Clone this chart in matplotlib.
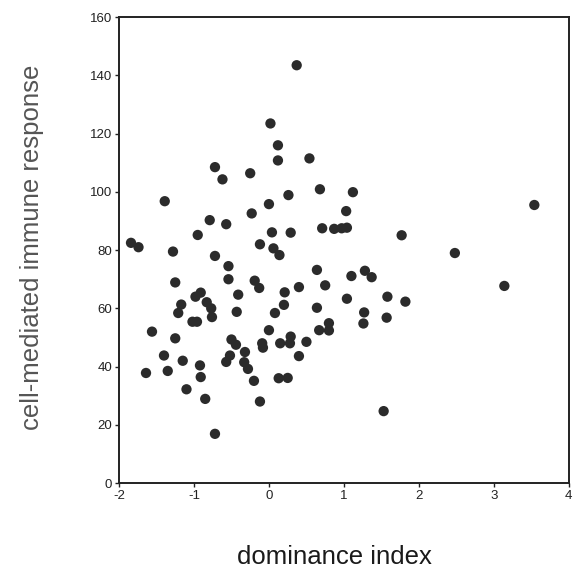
import matplotlib
matplotlib.use("Agg")
import matplotlib.pyplot as plt

plt.rcParams['font.family'] = ['Liberation Sans', 'DejaVu Sans']

dominance = [
    0.37, 0.02, 0.12, 0.12, 0.54, -0.72, -0.62, -0.25, 0.68, 0.26,
    -1.39, 0.00, -0.23, -0.79, -0.57, 0.04, 0.29, -0.95, 0.71, 0.87,
    0.97, 1.04, 1.03, 1.12, 3.54, 1.77, 2.48, -1.84, -1.74, -1.28,
    -0.12, 0.06, 0.14, -0.72, -0.54, -0.54, -1.25, -0.19, -0.13, -0.41,
    0.21, 0.40, 0.64, 0.75, 0.64, 0.20, 0.08, 0.00, -0.09, -0.08,
    0.15, 0.29, 0.28, 0.50, 0.40, 0.67, 0.80, 0.80, 0.13, 0.25,
    -0.12, -0.20, -0.28, -0.33, -0.32, -0.50, -0.44, -0.52, -0.57, -0.43,
    -0.72, -0.85, -0.91, -0.92, -1.10, -1.15, -1.35, -1.40, -1.25, -1.56,
    -1.64, -1.17, -1.21, -0.98, -0.91, -1.02, -0.96, -0.83, -0.77, -0.76,
    1.10, 1.28, 1.37, 1.04, 1.58, 1.82, 1.27, 1.26, 1.57, 1.53,
    3.14,
]
immune = [
    143.5, 123.5, 116.0, 110.8, 111.5, 108.5, 104.3, 106.4, 100.9, 98.9,
    96.8, 95.8, 92.6, 90.3, 88.9, 86.1, 86.0, 85.2, 87.5, 87.3,
    87.5, 87.7, 93.4, 99.9, 95.5, 85.1, 79.0, 82.5, 81.0, 79.5,
    82.0, 80.6, 78.3, 78.0, 74.5, 70.0, 68.9, 69.5, 67.0, 64.7,
    65.5, 67.3, 73.2, 67.9, 60.2, 61.2, 58.4, 52.5, 48.0, 46.5,
    48.0, 50.3, 48.0, 48.5, 43.6, 52.5, 54.9, 52.4, 36.0, 36.1,
    28.0, 35.1, 39.2, 41.5, 45.0, 49.3, 47.5, 43.8, 41.6, 58.8,
    16.9, 28.9, 36.4, 40.4, 32.2, 42.0, 38.5, 43.8, 49.7, 52.0,
    37.8, 61.3, 58.4, 64.0, 65.4, 55.4, 55.4, 62.1, 60.0, 57.0,
    71.1, 72.9, 70.7, 63.3, 64.0, 62.3, 58.6, 54.8, 56.8, 24.7,
    67.7,
]
x_ticks = [-2, -1, 0, 1, 2, 3, 4]
y_ticks = [0, 20, 40, 60, 80, 100, 120, 140, 160]

fig = plt.figure(figsize=(5.73, 5.73), dpi=100)
ax = fig.add_axes([0.2077, 0.157, 0.785, 0.813])

ax.scatter(dominance, immune, s=55, color='#2b2b2b', edgecolors='none', zorder=3)

ax.set_xlim(-2, 4)
ax.set_ylim(0, 160)
ax.set_xticks(x_ticks)
ax.set_yticks(y_ticks)
ax.set_xticklabels([str(t) for t in x_ticks])
ax.set_yticklabels([str(t) for t in y_ticks])
ax.tick_params(axis='both', direction='out', length=3, width=1, labelsize=9.5,
               colors='#222222', pad=2)

for side in ['left', 'bottom', 'top', 'right']:
    ax.spines[side].set_color('#222222')
    ax.spines[side].set_linewidth(1.4)

ax.set_xlabel('dominance index', fontsize=18.5, color='#1a1a1a')
ax.set_ylabel('cell-mediated immune response', fontsize=18.5, color='#555555')
ax.xaxis.set_label_coords(0.478, -0.174, transform=ax.transAxes)
ax.xaxis.label.set_va('baseline')
ax.yaxis.set_label_coords(-0.166, 0.505, transform=ax.transAxes)

fig.savefig('out.png', dpi=100, facecolor='white')
